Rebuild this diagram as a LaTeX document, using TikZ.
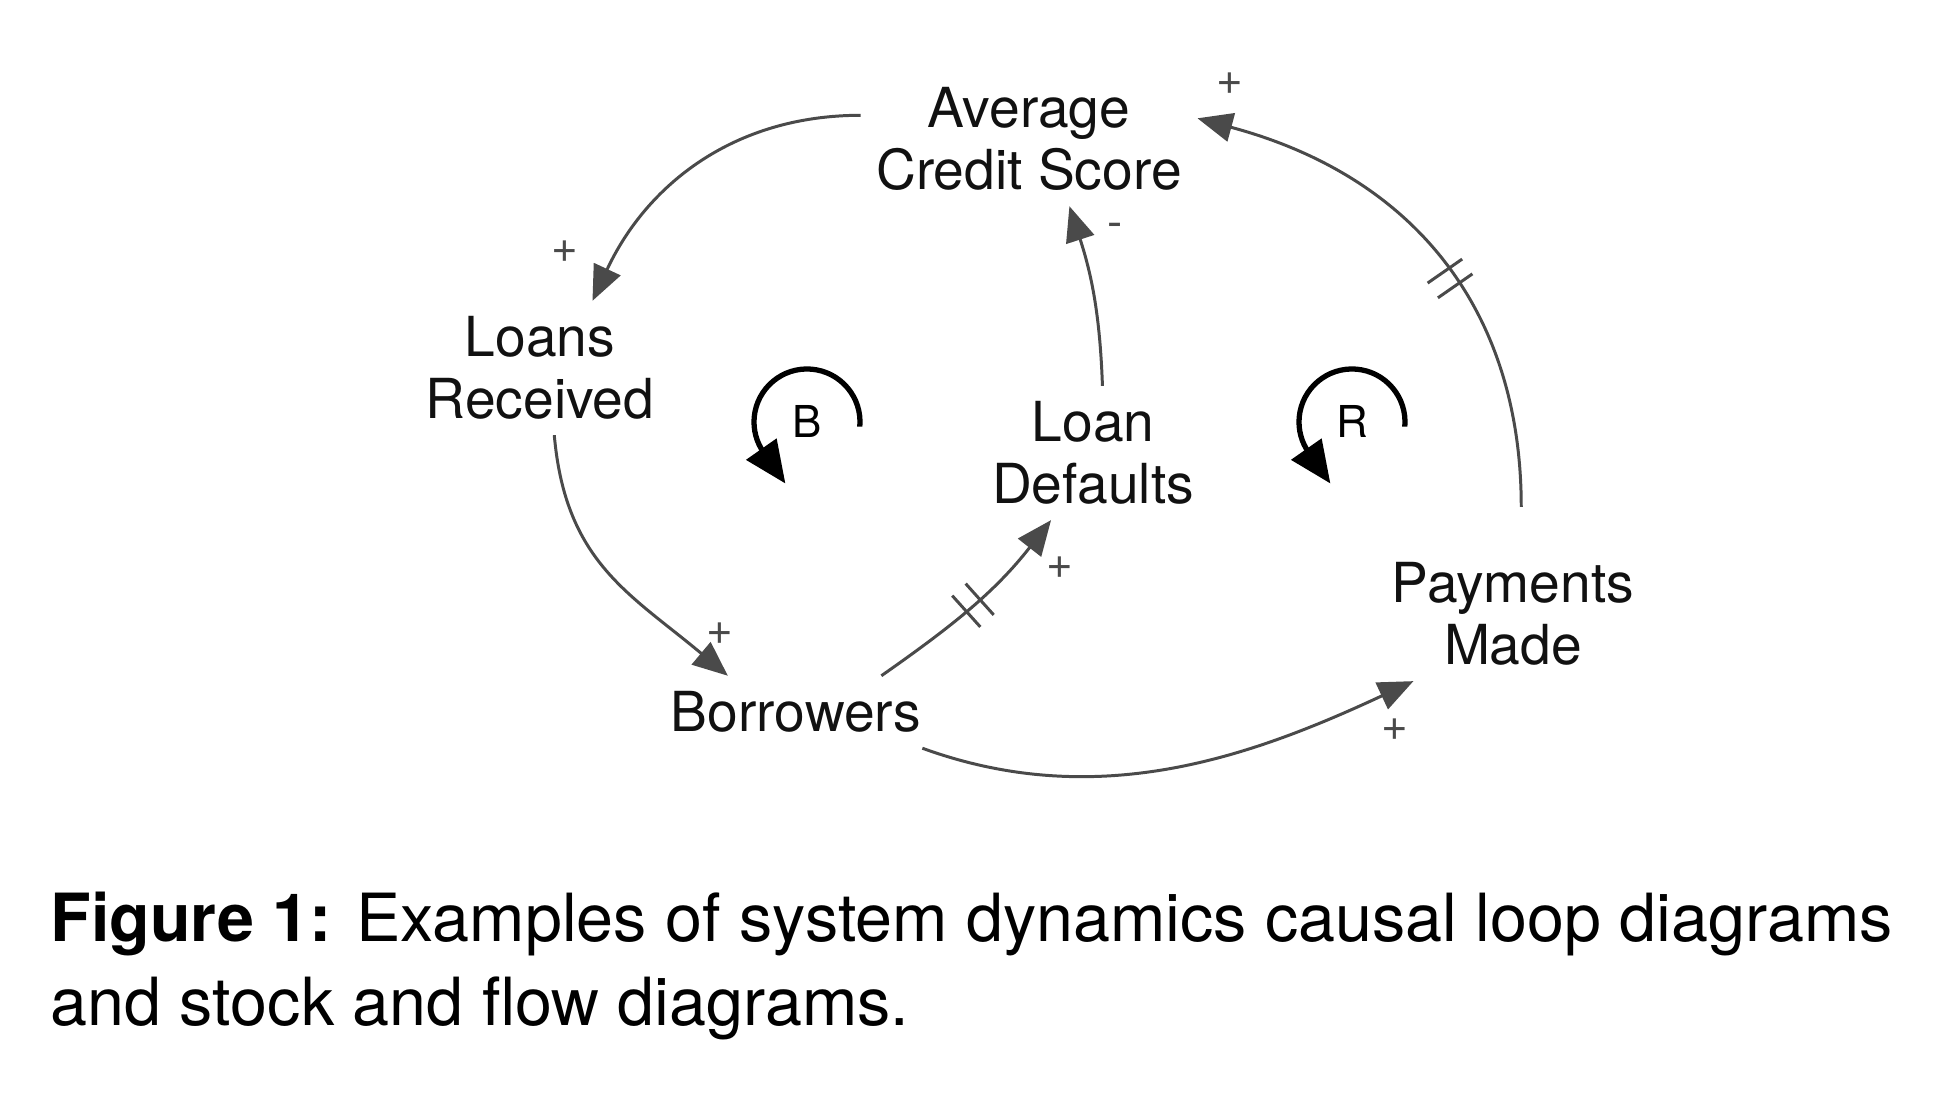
\documentclass[tikz,border=0pt]{standalone}
\usepackage{fontspec}
\setmainfont{TeX Gyre Heros}
\usetikzlibrary{arrows.meta,decorations.markings}
\definecolor{clLink}{HTML}{4A4A4A}
\definecolor{clText}{HTML}{111111}
\tikzset{
  var/.style={align=center, inner sep=1.5mm, font=\fontsize{15.7}{17.6}\selectfont, text=clText},
  link/.style={-{Triangle[length=3.5mm, width=2.9mm]}, line width=0.85pt, draw=clLink},
  delay/.style={postaction={decorate, decoration={markings, mark=at position #1 with {
      \draw[-, shorten <=0pt, shorten >=0pt, clLink, line width=0.85pt]
        (-0.09,-0.21) -- (-0.09,0.21) (0.09,-0.21) -- (0.09,0.21);}}}},
  polarity/.style={font=\fontsize{13}{13}\selectfont, text=clLink, inner sep=0pt},
  loopsym/.style={-{Triangle[length=4.2mm, width=3.6mm]}, line width=1.5pt, draw=black},
  loopname/.style={font=\fontsize{12.5}{12.5}\selectfont, inner sep=0pt},
  caption/.style={align=left, inner sep=0pt, font=\fontsize{18.9}{23.9}\selectfont},
}
\begin{document}
\begin{tikzpicture}
  \useasboundingbox (0,0) rectangle (19.48,11.18);
  % variables
  \node[var] (acs) at (10.29,9.79) {Average\\Credit Score};
  \node[var] (lr) at (5.40,7.50) {Loans\\Received};
  \node[var] (ld) at (10.93,6.65) {Loan\\Defaults};
  \node[var] (bor) at (7.96,4.06) {Borrowers};
  \node[var] (pm) at (15.13,5.04) {Payments\\Made};
  % causal links
  \draw[link] (acs.172) to[out=180,in=65] (lr.52);
  \draw[link] (lr.-78) to[out=-85,in=140,looseness=1.1] (bor.152);
  \draw[link, delay=0.5] (bor.23) to[out=35,in=-128] (ld.-122);
  \draw[link] (ld.82) to[out=92,in=-72] (acs.-59);
  \draw[link] (bor.-16) to[out=-20,in=-155,looseness=0.95] (pm.-146);
  \draw[link, delay=0.48, shorten <=4mm] (pm.83) to[out=90,in=-15,looseness=1.1] (acs.7);
  % polarities
  \node[polarity] (p1) at (5.65,8.66) {+};
  \node[polarity] (p2) at (7.20,4.84) {+};
  \node[polarity] (p3) at (10.60,5.50) {+};
  \node[polarity] (p4) at (11.15,8.88) {-};
  \node[polarity] (p5) at (13.95,3.88) {+};
  \node[polarity] (p6) at (12.30,10.34) {+};
  % loop markers
  \node[loopname] (loopb) at (8.07,6.96) {B};
  \node[loopname] (loopr) at (13.52,6.96) {R};
  \draw[loopsym] ([shift={(-5:0.53)}]loopb.center) arc[start angle=-5, end angle=215, radius=0.53] -- ++(305:0.38);
  \draw[loopsym] ([shift={(-5:0.53)}]loopr.center) arc[start angle=-5, end angle=215, radius=0.53] -- ++(305:0.38);
  % caption
  \node[caption, anchor=north west] (cap) at (0.50,2.27) {\textbf{Figure 1:} Examples of system dynamics causal loop diagrams\\and stock and flow diagrams.};
\end{tikzpicture}
\end{document}
